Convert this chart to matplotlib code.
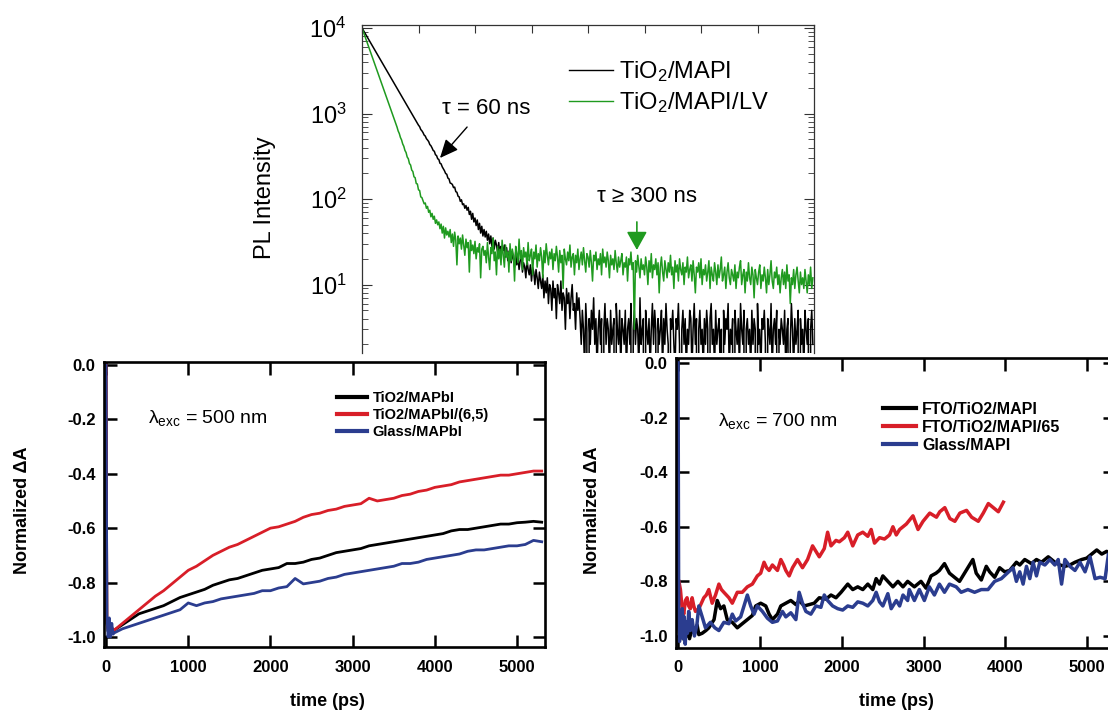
import numpy as np
import matplotlib
matplotlib.use('Agg')
import matplotlib.pyplot as plt
from matplotlib.ticker import MultipleLocator, FormatStrFormatter, NullFormatter

plt.rcParams['font.family'] = ['Liberation Sans', 'DejaVu Sans']
plt.rcParams['mathtext.default'] = 'regular'
plt.rcParams['axes.unicode_minus'] = False

W, H = 1108, 712
GREEN = '#1f9a1f'
RED = '#d81e28'
BLUE = '#2b3d8f'

# ---- PL decay (counts per 4 ns channel) ----
channel_ns = 4.0
pl_mapi = [
    10000, 9490, 9006, 8547, 8111, 7698, 7305, 6933, 6579, 6244,
    5925, 5623, 5337, 5065, 4806, 4561, 4329, 4108, 3899, 3700,
    3511, 3332, 3162, 3001, 2848, 2703, 2565, 2434, 2310, 2192,
    2080, 1974, 1874, 1778, 1688, 1602, 1520, 1442, 1369, 1299,
    1233, 1170, 1110, 1054, 1000, 949, 900, 854, 811, 770, 730,
    702, 650, 628, 598, 560, 545, 508, 490, 470, 434,
    420, 396, 370, 362, 330, 322, 296, 290, 262, 258,
    238, 226, 214, 199, 195, 176, 172, 154, 152, 148,
    136, 138, 122, 120, 108, 106, 94, 98, 86, 88, 78, 84,
    74, 80, 66, 72, 58, 68, 54, 60, 49, 57, 44, 52, 40, 48, 37, 44,
    36, 42, 33, 39, 30, 37, 28, 35, 26, 33, 29, 24, 31, 22, 28, 26,
    25, 29, 21, 27, 19, 24, 26, 18, 23, 20, 16, 24, 17, 21, 15, 19, 22,
    14, 18, 16, 12, 20, 15, 13, 17, 11, 16, 14, 10, 15, 12, 9, 14, 11,
    9, 13, 7, 11, 8, 12, 6, 10, 9, 5, 11, 7, 9, 4, 10, 8, 6,
    11, 5, 8, 7, 3, 9, 6, 8, 4, 7, 10, 5, 6, 3, 8, 5, 7,
    4, 2, 5, 3, 1, 6, 3, 0, 4, 2, 5, 3, 7, 2, 4, 1, 3, 5, 2, 4,
    0, 3, 6, 2, 4, 3, 1, 5, 2, 3, 4, 0, 6, 3, 2, 5, 1, 4, 3, 2,
    5, 1, 3, 4, 2, 6, 0, 3, 5, 2, 4, 3, 1, 7, 2, 3, 4, 0, 5, 3,
    2, 4, 1, 3, 6, 2, 5, 3, 0, 4, 2, 3, 5, 1, 4, 2, 6, 3, 2, 0,
    4, 3, 5, 2, 1, 4, 3, 6, 2, 0, 3, 5, 2, 4, 1, 3, 2, 5, 4, 1,
    3, 6, 2, 4, 0, 3, 5, 2, 3, 1, 4, 2, 5, 3, 0, 4, 6, 2, 3, 1,
    5, 2, 3, 4, 1, 3, 0, 5, 2, 4, 3, 6, 1, 3, 2, 4, 0, 5, 3, 2,
    4, 1, 6, 3, 2, 5, 0, 3, 4, 2, 3, 1, 5, 2, 4, 3, 0, 6, 2, 3,
    1, 4, 3, 5, 2, 0, 4, 3, 2, 6, 1, 3, 4, 2, 5, 0, 3, 2, 4, 3,
    2, 5, 1, 3, 4, 0, 2, 6, 3, 1, 4, 2, 3, 5, 0, 4, 2, 3, 1, 5,
    3, 2, 4, 0, 3, 5, 2,
]
pl_mapi_lv = [
    10000, 9173, 8414, 7718, 7079, 6494, 5957, 5464, 5012, 4597,
    4217, 3868, 3548, 3255, 2985, 2738, 2512, 2304, 2113, 1939,
    1778, 1631, 1496, 1372, 1259, 1155, 1059, 972, 891, 818,
    750, 694, 625, 584, 525, 492, 441, 414, 370, 350, 310, 296,
    260, 250, 218, 210, 182, 178, 152, 150, 128, 126, 106, 104,
    96, 88, 90, 78, 82, 70, 74, 62, 68, 58, 63, 52, 57, 50, 54, 45,
    51, 40, 48, 35, 46, 38, 42,
    36, 44, 31, 39, 28, 41, 33, 17, 37, 30, 35, 26, 38, 29, 22, 34,
    27, 31, 14, 33, 25, 29, 23, 32, 20, 27, 24, 30, 12, 26, 28, 22,
    25, 18, 31, 21, 15, 27, 23, 35, 19, 24, 13, 28, 20, 26, 17, 33, 22, 16, 29, 21,
    24, 14, 30, 19, 26, 22, 11, 28, 23, 18, 34, 20, 25, 15, 27, 21, 24, 17, 31, 19,
    22, 26, 13, 24, 20, 29, 16, 23, 19, 27, 21, 12, 25, 18, 30, 22, 17, 24, 20, 26,
    15, 23, 19, 28, 21, 14, 25, 18, 22, 9, 26, 20, 17, 24, 19, 29, 16, 21, 23, 13,
    22, 18, 26, 15, 20, 24, 17, 27, 19, 14, 23, 21, 16, 25, 18, 11, 22, 19, 24, 15,
    20, 17, 23, 13, 26, 18, 21, 16, 24, 19, 12, 22, 17, 20, 15, 25, 18, 14, 21, 16,
    19, 23, 13, 18, 16, 21, 11, 20, 17, 24, 15, 18, 3, 19, 14, 22, 16, 12, 20, 15,
    17, 13, 21, 16, 10, 19, 14, 23, 12, 17, 15, 20, 13, 18, 8, 16, 21, 14, 11, 19,
    15, 12, 18, 14, 22, 13, 16, 9, 19, 14, 17, 11, 20, 15, 13, 18, 10, 16, 14, 21,
    12, 15, 17, 11, 19, 13, 8, 16, 14, 18, 12, 20, 10, 15, 13, 17, 11, 14, 19, 9,
    16, 13, 11, 18, 14, 10, 17, 12, 15, 21, 11, 13, 16, 9, 14, 18, 12, 10, 15, 13,
    11, 17, 9, 14, 12, 16, 19, 10, 13, 15, 8, 14, 11, 18, 12, 10, 16, 13, 7, 15,
    12, 10, 14, 17, 9, 13, 11, 16, 12, 8, 15, 10, 13, 19, 11, 9, 14, 12, 16, 10,
    13, 8, 12, 15, 10, 14, 9, 17, 11, 13, 6, 12, 10, 15, 9, 13, 16, 11, 8, 14,
    10, 12, 9, 15, 11, 8, 13, 10, 16, 9, 12,
]

# ---- transient absorption, 500 nm excitation ----
ta500_t = [0, 10, 25, 40, 55, 70, 85] + list(range(100, 5400, 100))
ta500_mapbi = [
    -0.03, -0.95, -0.98, -0.96, -0.99, -0.97, -0.985,
    -0.975, -0.955, -0.935, -0.915, -0.905, -0.895, -0.885, -0.87, -0.855, -0.845,
    -0.835, -0.825, -0.81, -0.80, -0.79, -0.785, -0.775, -0.765, -0.755, -0.75,
    -0.745, -0.73, -0.73, -0.725, -0.715, -0.71, -0.70, -0.69, -0.685, -0.68,
    -0.675, -0.665, -0.66, -0.655, -0.65, -0.645, -0.64, -0.635, -0.63, -0.625,
    -0.62, -0.61, -0.605, -0.605, -0.60, -0.595, -0.59, -0.585, -0.585, -0.58,
    -0.578, -0.575, -0.578,
]
ta500_mapbi_65 = [
    0.01, -0.94, -0.97, -0.99, -0.96, -0.985, -0.97,
    -0.975, -0.95, -0.925, -0.90, -0.875, -0.85, -0.83, -0.805, -0.78, -0.755,
    -0.74, -0.72, -0.70, -0.685, -0.67, -0.66, -0.645, -0.63, -0.615, -0.60,
    -0.595, -0.585, -0.575, -0.56, -0.55, -0.545, -0.535, -0.53, -0.52, -0.515,
    -0.51, -0.49, -0.50, -0.495, -0.49, -0.48, -0.475, -0.465, -0.46, -0.45,
    -0.445, -0.44, -0.43, -0.425, -0.42, -0.415, -0.41, -0.405, -0.405, -0.40,
    -0.395, -0.39, -0.39,
]
ta500_glass = [
    0.0, -0.92, -1.0, -0.93, -1.0, -0.95, -0.99,
    -0.985, -0.97, -0.96, -0.95, -0.94, -0.93, -0.92, -0.91, -0.90, -0.875,
    -0.885, -0.875, -0.87, -0.86, -0.855, -0.85, -0.845, -0.84, -0.83, -0.83,
    -0.82, -0.815, -0.785, -0.805, -0.80, -0.795, -0.785, -0.78, -0.77, -0.765,
    -0.76, -0.755, -0.75, -0.745, -0.74, -0.73, -0.73, -0.725, -0.715, -0.71,
    -0.705, -0.70, -0.695, -0.685, -0.68, -0.68, -0.675, -0.67, -0.665, -0.665,
    -0.66, -0.645, -0.65,
]

# ---- transient absorption, 700 nm excitation (time ps, dA) ----
ta700_mapi = [
    (0, -0.93), (20, -0.99), (40, -0.95), (60, -1.01), (80, -0.96), (100, -1.00),
    (120, -0.97), (140, -1.01), (172, -0.97), (200, -0.99), (233, -0.96), (254, -0.995),
    (295, -0.99), (340, -0.98), (376, -0.97), (440, -0.94), (479, -0.87), (520, -0.90),
    (560, -0.89), (601, -0.94), (663, -0.95), (724, -0.97), (785, -0.955), (847, -0.94),
    (908, -0.925), (949, -0.89), (1010, -0.88), (1072, -0.89), (1113, -0.92), (1153, -0.94),
    (1215, -0.92), (1256, -0.89), (1317, -0.88), (1378, -0.87), (1440, -0.885), (1480, -0.87),
    (1542, -0.89), (1603, -0.885), (1664, -0.88), (1726, -0.86), (1808, -0.865), (1869, -0.85),
    (1930, -0.86), (1992, -0.84), (2074, -0.81), (2135, -0.83), (2196, -0.82), (2258, -0.83),
    (2319, -0.81), (2380, -0.83), (2421, -0.79), (2462, -0.81), (2503, -0.78), (2564, -0.80),
    (2626, -0.82), (2687, -0.80), (2749, -0.82), (2806, -0.80), (2888, -0.82), (2969, -0.80),
    (3031, -0.825), (3092, -0.78), (3153, -0.77), (3194, -0.76), (3256, -0.735), (3317, -0.77),
    (3378, -0.785), (3440, -0.80), (3501, -0.77), (3562, -0.74), (3603, -0.72), (3644, -0.77),
    (3706, -0.795), (3767, -0.745), (3808, -0.765), (3869, -0.785), (3930, -0.75), (3992, -0.765),
    (4053, -0.76), (4135, -0.73), (4176, -0.74), (4237, -0.72), (4319, -0.735), (4380, -0.72),
    (4442, -0.73), (4524, -0.71), (4605, -0.73), (4667, -0.74), (4728, -0.745), (4789, -0.74),
    (4851, -0.73), (4933, -0.72), (4994, -0.715), (5055, -0.70), (5117, -0.685), (5178, -0.70),
    (5239, -0.69), (5276, -0.70), (5340, -0.69),
]
ta700_mapi_65 = [
    (10, -0.80), (29, -0.83), (50, -0.90), (70, -0.92), (90, -0.87), (110, -0.86),
    (130, -0.89), (151, -0.90), (172, -0.86), (192, -0.89), (213, -0.91), (254, -0.90),
    (285, -0.88), (315, -0.86), (345, -0.85), (376, -0.83), (417, -0.88), (458, -0.85),
    (499, -0.81), (530, -0.83), (560, -0.84), (622, -0.86), (663, -0.88), (724, -0.84),
    (785, -0.84), (847, -0.82), (908, -0.81), (969, -0.78), (1010, -0.77), (1051, -0.73),
    (1082, -0.75), (1113, -0.76), (1153, -0.74), (1215, -0.76), (1256, -0.72), (1290, -0.74),
    (1317, -0.76), (1358, -0.78), (1399, -0.75), (1460, -0.72), (1521, -0.75), (1583, -0.72),
    (1644, -0.67), (1685, -0.69), (1726, -0.71), (1787, -0.68), (1828, -0.62), (1869, -0.67),
    (1930, -0.65), (1971, -0.655), (2033, -0.64), (2074, -0.62), (2135, -0.67), (2196, -0.63),
    (2258, -0.62), (2319, -0.635), (2360, -0.61), (2401, -0.66), (2462, -0.64), (2523, -0.645),
    (2585, -0.63), (2626, -0.60), (2667, -0.63), (2708, -0.61), (2790, -0.59), (2871, -0.56),
    (2933, -0.61), (2994, -0.58), (3076, -0.55), (3158, -0.565), (3199, -0.545), (3260, -0.53),
    (3322, -0.57), (3383, -0.58), (3444, -0.55), (3526, -0.54), (3588, -0.565), (3669, -0.58),
    (3730, -0.55), (3792, -0.515), (3853, -0.53), (3914, -0.545), (3976, -0.51),
]
ta700_glass = [
    (0, 0.0), (8, -0.95), (18, -1.02), (28, -0.92), (40, -1.0), (52, -0.90), (64, -1.01),
    (76, -0.93), (88, -1.03), (100, -0.95), (115, -0.99), (130, -0.91), (150, -0.98),
    (172, -0.94), (200, -1.0), (230, -0.96), (254, -0.89), (295, -0.93), (335, -0.97),
    (395, -0.95), (450, -0.97), (499, -0.98), (560, -0.95), (622, -0.955), (663, -0.92),
    (704, -0.945), (765, -0.93), (847, -0.85), (888, -0.89), (929, -0.92), (969, -0.89),
    (1031, -0.91), (1092, -0.935), (1153, -0.95), (1215, -0.945), (1276, -0.91), (1317, -0.93),
    (1378, -0.915), (1440, -0.94), (1480, -0.84), (1521, -0.88), (1562, -0.91), (1623, -0.92),
    (1685, -0.89), (1746, -0.895), (1787, -0.85), (1828, -0.87), (1889, -0.89), (1951, -0.90),
    (2012, -0.905), (2074, -0.89), (2135, -0.895), (2196, -0.875), (2258, -0.88), (2319, -0.89),
    (2380, -0.87), (2421, -0.84), (2462, -0.875), (2503, -0.89), (2564, -0.845), (2605, -0.90),
    (2667, -0.87), (2708, -0.89), (2749, -0.85), (2806, -0.87), (2826, -0.83), (2888, -0.87),
    (2949, -0.83), (3010, -0.87), (3071, -0.82), (3133, -0.85), (3194, -0.81), (3256, -0.84),
    (3317, -0.81), (3399, -0.82), (3460, -0.84), (3542, -0.83), (3624, -0.84), (3706, -0.83),
    (3788, -0.83), (3869, -0.80), (3951, -0.79), (4094, -0.75), (4135, -0.80), (4176, -0.765),
    (4217, -0.81), (4258, -0.745), (4299, -0.79), (4339, -0.73), (4380, -0.78), (4421, -0.73),
    (4483, -0.74), (4544, -0.72), (4605, -0.74), (4646, -0.72), (4687, -0.81), (4728, -0.72),
    (4789, -0.745), (4851, -0.76), (4912, -0.73), (4974, -0.765), (5035, -0.71), (5096, -0.79),
    (5158, -0.785), (5219, -0.79), (5260, -0.70), (5340, -0.78),
]

fig = plt.figure(figsize=(W / 100, H / 100), dpi=100)


def px_axes(x0, y0, x1, y1):
    # axes placed by pixel box (left, top, right, bottom)
    return fig.add_axes([x0 / W, 1 - y1 / H, (x1 - x0) / W, (y1 - y0) / H])


# ---------------- PL decay panel ----------------
ax = px_axes(362, 25, 814, 353)
ax.plot(np.arange(len(pl_mapi)) * channel_ns, pl_mapi, color='black', lw=1.1,
        label='TiO$_2$/MAPI')
ax.plot(np.arange(len(pl_mapi_lv)) * channel_ns, pl_mapi_lv, color=GREEN, lw=1.1,
        label='TiO$_2$/MAPI/LV')
ax.set_yscale('log')
ax.set_xlim(0, 1600)
ax.set_ylim(10 ** 0.2, 10 ** 4.035)
ax.xaxis.set_major_locator(MultipleLocator(200))
ax.xaxis.set_major_formatter(NullFormatter())
ax.tick_params(axis='x', which='both', direction='in', top=True, bottom=False,
               labelbottom=False, length=6, width=0.8, color='#333333')
ax.tick_params(axis='y', which='major', direction='in', left=True, right=True,
               length=7, width=0.8, color='#333333', labelsize=17, pad=11)
ax.tick_params(axis='y', which='minor', direction='in', left=True, right=True,
               length=4, width=0.6, color='#333333')
ax.spines['bottom'].set_visible(False)
for s in ['top', 'left', 'right']:
    ax.spines[s].set_color('#333333')
    ax.spines[s].set_linewidth(0.9)
ax.set_ylabel('PL Intensity', fontsize=17)
ax.yaxis.set_label_coords(-0.19, 0.473)
leg = ax.legend(loc='upper left', bbox_to_anchor=(0.458, 0.895), frameon=False,
                fontsize=17, handlelength=1.85, handletextpad=0.25, labelspacing=0.25,
                borderpad=0, borderaxespad=0)
for h in leg.get_lines():
    h.set_linewidth(1.0)
ax.text(0.274, 0.744, 'τ = 60 ns', transform=ax.transAxes, ha='center', va='center',
        fontsize=16)
ax.annotate('', xy=(276, 302), xytext=(372, 695),
            arrowprops=dict(arrowstyle='-|>,head_length=0.45,head_width=0.2', color='black',
                            lw=1.0, mutation_scale=25, shrinkA=0, shrinkB=0))
ax.text(0.631, 0.476, 'τ ≥ 300 ns', transform=ax.transAxes, ha='center', va='center',
        fontsize=16)
ax.annotate('', xy=(973, 25.4), xytext=(973, 54),
            arrowprops=dict(arrowstyle='-|>,head_length=0.45,head_width=0.25', color=GREEN,
                            lw=1.2, mutation_scale=25, shrinkA=0, shrinkB=0))


# ---------------- transient absorption panels ----------------
def style_ta(ax, ylim, legend_anchor, legend_size, spacing, lam_pos, lam_text,
             xlab_pos, ylab_pos):
    ax.set_xlim(-25, 5340)
    ax.set_ylim(*ylim)
    ax.xaxis.set_major_locator(MultipleLocator(1000))
    ax.yaxis.set_major_locator(MultipleLocator(0.2))
    ax.yaxis.set_major_formatter(FormatStrFormatter('%.1f'))
    ax.tick_params(which='major', direction='in', top=True, right=True, length=9,
                   width=1.8, labelsize=12)
    ax.tick_params(axis='x', pad=9)
    ax.tick_params(axis='y', pad=6)
    for lab in ax.get_xticklabels() + ax.get_yticklabels():
        lab.set_fontweight('bold')
    for s in ax.spines.values():
        s.set_linewidth(1.9)
    ax.set_xlabel('time (ps)', fontsize=13, fontweight='bold')
    ax.set_ylabel('Normalized ΔA', fontsize=13, fontweight='bold')
    ax.xaxis.set_label_coords(*xlab_pos)
    ax.yaxis.set_label_coords(*ylab_pos)
    leg = ax.legend(loc='upper left', bbox_to_anchor=legend_anchor, frameon=False,
                    prop={'weight': 'bold', 'size': legend_size}, handlelength=2.05,
                    handletextpad=0.4, labelspacing=spacing, borderpad=0, borderaxespad=0)
    for h in leg.get_lines():
        h.set_linewidth(3.0)
    ax.text(lam_pos[0], lam_pos[1], lam_text, transform=ax.transAxes, ha='left',
            va='center', fontsize=14)


# 500 nm excitation
ax1 = px_axes(104, 362, 545, 647)
ax1.plot(ta500_t, ta500_mapbi, color='black', lw=2.0, label='TiO2/MAPbI')
ax1.plot(ta500_t, ta500_mapbi_65, color=RED, lw=2.0, label='TiO2/MAPbI/(6,5)')
ax1.plot(ta500_t, ta500_glass, color=BLUE, lw=2.0, label='Glass/MAPbI')
style_ta(ax1, (-1.037, 0.011), (0.528, 0.898), 10.5, 0.2, (0.10, 0.8035),
         '$λ_{exc}$ = 500 nm', (0.506, -0.16), (-0.165, 0.48))

# 700 nm excitation (panel runs past the right edge of the figure)
ax2 = px_axes(676, 358, 1115, 648)
for series, color, name in [(ta700_mapi, 'black', 'FTO/TiO2/MAPI'),
                            (ta700_mapi_65, RED, 'FTO/TiO2/MAPI/65'),
                            (ta700_glass, BLUE, 'Glass/MAPI')]:
    t, v = np.array(series).T
    ax2.plot(t, v, color=color, lw=2.5, label=name)
style_ta(ax2, (-1.044, 0.018), (0.4715, 0.848), 11.5, 0.17, (0.096, 0.783),
         '$λ_{exc}$ = 700 nm', (0.501, -0.155), (-0.17, 0.476))

fig.savefig('out.png', dpi=100)
